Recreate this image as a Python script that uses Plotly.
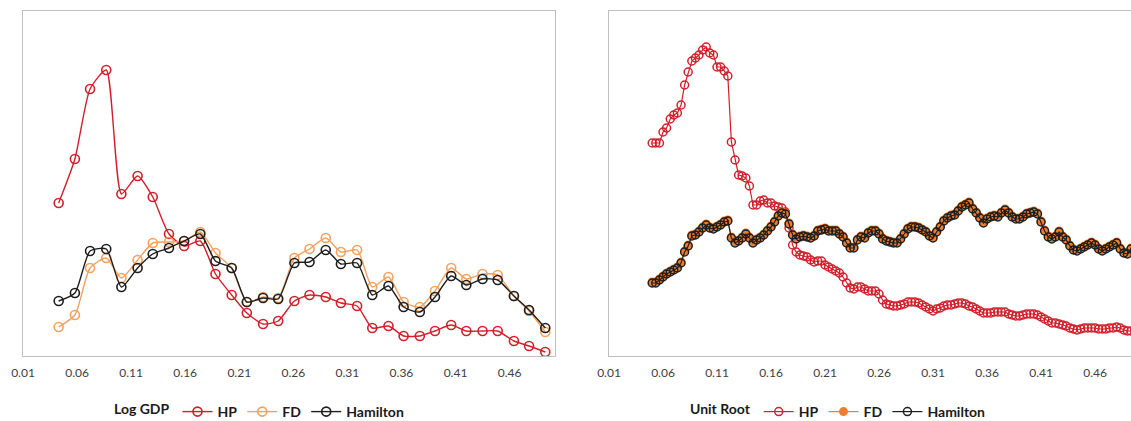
import plotly.graph_objects as go

# ---- Log GDP panel: frequencies and spectral estimates ----
freq_gdp = [0.043, 0.058, 0.072, 0.087, 0.101, 0.116, 0.130, 0.145, 0.159, 0.174,
            0.188, 0.203, 0.217, 0.232, 0.246, 0.261, 0.275, 0.290, 0.304, 0.319,
            0.333, 0.348, 0.362, 0.377, 0.391, 0.406, 0.420, 0.435, 0.449, 0.464,
            0.478, 0.493]
gdp_hp = [1.53, 1.97, 2.67, 2.86, 1.62, 1.80, 1.59, 1.22, 1.10, 1.15,
          0.82, 0.61, 0.43, 0.32, 0.35, 0.55, 0.61, 0.59, 0.53, 0.50,
          0.28, 0.30, 0.20, 0.20, 0.25, 0.31, 0.25, 0.25, 0.25, 0.15,
          0.10, 0.04]
gdp_fd = [0.29, 0.41, 0.88, 0.98, 0.78, 0.96, 1.13, 1.14, 1.15, 1.24,
          1.03, 0.88, 0.54, 0.59, 0.58, 0.98, 1.07, 1.18, 1.04, 1.06,
          0.69, 0.79, 0.54, 0.49, 0.65, 0.88, 0.77, 0.82, 0.81, 0.60,
          0.45, 0.24]
gdp_ham = [0.55, 0.63, 1.05, 1.07, 0.69, 0.88, 1.02, 1.08, 1.15, 1.22,
           0.95, 0.88, 0.54, 0.58, 0.57, 0.93, 0.94, 1.06, 0.92, 0.93,
           0.61, 0.70, 0.49, 0.44, 0.59, 0.80, 0.71, 0.77, 0.76, 0.60,
           0.46, 0.28]

# ---- Unit Root panel: frequencies j/300, j = 15..150 ----
freq_ur = [round(j / 300, 4) for j in range(15, 151)]
ur_hp = [2.13, 2.13, 2.13, 2.24, 2.28, 2.37, 2.41, 2.43, 2.51, 2.71,
         2.84, 2.95, 2.98, 3.01, 3.06, 3.09, 3.03, 3.01, 2.89, 2.89,
         2.85, 2.80, 2.14, 1.96, 1.81, 1.80, 1.78, 1.70, 1.51, 1.51,
         1.55, 1.56, 1.53, 1.53, 1.50, 1.49, 1.48, 1.44, 1.28, 1.11,
         1.04, 1.01, 1.00, 0.99, 0.96, 0.94, 0.95, 0.95, 0.91, 0.89,
         0.87, 0.85, 0.83, 0.79, 0.73, 0.68, 0.67, 0.69, 0.69, 0.67,
         0.65, 0.65, 0.65, 0.62, 0.56, 0.52, 0.51, 0.50, 0.50, 0.51,
         0.52, 0.54, 0.54, 0.54, 0.53, 0.51, 0.49, 0.47, 0.45, 0.47,
         0.48, 0.50, 0.51, 0.51, 0.52, 0.53, 0.53, 0.52, 0.50, 0.49,
         0.47, 0.45, 0.43, 0.43, 0.43, 0.44, 0.44, 0.44, 0.44, 0.42,
         0.41, 0.40, 0.40, 0.41, 0.42, 0.42, 0.42, 0.41, 0.39, 0.37,
         0.35, 0.33, 0.33, 0.32, 0.31, 0.30, 0.28, 0.27, 0.26, 0.27,
         0.28, 0.28, 0.28, 0.28, 0.27, 0.27, 0.27, 0.28, 0.28, 0.29,
         0.28, 0.26, 0.25, 0.25, 0.25, 0.24]
ur_fd = [0.74, 0.74, 0.77, 0.80, 0.83, 0.85, 0.87, 0.89, 0.94, 1.05,
         1.11, 1.21, 1.22, 1.25, 1.29, 1.32, 1.29, 1.28, 1.30, 1.32,
         1.35, 1.36, 1.19, 1.14, 1.16, 1.19, 1.23, 1.19, 1.14, 1.17,
         1.19, 1.22, 1.26, 1.30, 1.35, 1.41, 1.44, 1.43, 1.33, 1.22,
         1.18, 1.20, 1.21, 1.20, 1.19, 1.21, 1.26, 1.27, 1.28, 1.26,
         1.26, 1.26, 1.23, 1.20, 1.14, 1.09, 1.09, 1.17, 1.20, 1.19,
         1.24, 1.26, 1.26, 1.23, 1.18, 1.16, 1.15, 1.14, 1.14, 1.18,
         1.23, 1.28, 1.30, 1.30, 1.29, 1.27, 1.25, 1.21, 1.19, 1.25,
         1.30, 1.36, 1.39, 1.41, 1.42, 1.46, 1.50, 1.52, 1.54, 1.48,
         1.44, 1.39, 1.34, 1.38, 1.40, 1.41, 1.40, 1.44, 1.47, 1.44,
         1.40, 1.38, 1.38, 1.40, 1.43, 1.44, 1.45, 1.43, 1.35, 1.26,
         1.20, 1.18, 1.20, 1.25, 1.20, 1.17, 1.11, 1.07, 1.06, 1.08,
         1.10, 1.12, 1.14, 1.12, 1.08, 1.06, 1.08, 1.10, 1.12, 1.14,
         1.08, 1.04, 1.03, 1.08, 1.07, 1.06]
ur_ham = [0.73, 0.73, 0.76, 0.79, 0.82, 0.84, 0.86, 0.88, 0.93, 1.04,
          1.10, 1.20, 1.21, 1.24, 1.28, 1.31, 1.28, 1.27, 1.29, 1.31,
          1.34, 1.35, 1.18, 1.13, 1.15, 1.18, 1.22, 1.18, 1.13, 1.16,
          1.18, 1.21, 1.25, 1.29, 1.34, 1.40, 1.43, 1.42, 1.32, 1.21,
          1.17, 1.19, 1.20, 1.19, 1.18, 1.20, 1.25, 1.26, 1.27, 1.25,
          1.25, 1.25, 1.22, 1.19, 1.13, 1.08, 1.08, 1.16, 1.19, 1.18,
          1.23, 1.25, 1.25, 1.22, 1.17, 1.15, 1.14, 1.13, 1.13, 1.17,
          1.22, 1.27, 1.29, 1.29, 1.28, 1.26, 1.24, 1.20, 1.18, 1.24,
          1.29, 1.35, 1.38, 1.40, 1.41, 1.45, 1.49, 1.51, 1.53, 1.47,
          1.43, 1.38, 1.33, 1.37, 1.39, 1.40, 1.39, 1.43, 1.46, 1.43,
          1.39, 1.37, 1.37, 1.39, 1.42, 1.43, 1.44, 1.42, 1.34, 1.25,
          1.19, 1.17, 1.19, 1.24, 1.19, 1.16, 1.10, 1.06, 1.05, 1.07,
          1.09, 1.11, 1.13, 1.11, 1.07, 1.05, 1.07, 1.09, 1.11, 1.13,
          1.07, 1.03, 1.02, 1.07, 1.06, 1.05]

tick_vals = [0.01, 0.06, 0.11, 0.16, 0.21, 0.26, 0.31, 0.36, 0.41, 0.46]
tick_text = ["0.01", "0.06", "0.11", "0.16", "0.21", "0.26", "0.31", "0.36", "0.41", "0.46"]

RED = "#D21F2B"
ORANGE_L = "#F4A15D"
ORANGE = "#EE7D2F"
BLACK = "#1E1E1E"
FONT = "Lato"

fig = go.Figure()

# Log GDP panel (smoothed lines, hollow markers)
for name, ys, col in [("HP", gdp_hp, RED), ("FD", gdp_fd, ORANGE_L), ("Hamilton", gdp_ham, BLACK)]:
    fig.add_trace(go.Scatter(
        x=freq_gdp, y=ys, name=f"<b>{name}</b>", mode="lines+markers",
        line=dict(color=col, width=1.4, shape="spline", smoothing=0.6),
        marker=dict(symbol="circle-open", size=9, color=col, line=dict(width=1.6)),
        xaxis="x", yaxis="y", legend="legend"))

# Unit Root panel
fig.add_trace(go.Scatter(
    x=freq_ur, y=ur_hp, name="<b>HP</b>", mode="lines+markers",
    line=dict(color=RED, width=1.2),
    marker=dict(symbol="circle-open", size=8, color=RED, line=dict(width=1.5)),
    xaxis="x2", yaxis="y2", legend="legend2"))
fig.add_trace(go.Scatter(
    x=freq_ur, y=ur_fd, name="<b>FD</b>", mode="lines+markers",
    line=dict(color=ORANGE, width=1.2),
    marker=dict(symbol="circle", size=9, color=ORANGE, line=dict(width=0)),
    xaxis="x2", yaxis="y2", legend="legend2"))
fig.add_trace(go.Scatter(
    x=freq_ur, y=ur_ham, name="<b>Hamilton</b>", mode="lines+markers",
    line=dict(color=BLACK, width=1.2),
    marker=dict(symbol="circle-open", size=8, color=BLACK, line=dict(width=1.5)),
    xaxis="x2", yaxis="y2", legend="legend2"))

W, H = 1131, 421
x_common = dict(tickvals=tick_vals, ticktext=tick_text, showgrid=False, zeroline=False,
                showline=True, linecolor="#BFBFBF", linewidth=1, mirror=True,
                ticks="outside", ticklen=6, tickcolor="rgba(0,0,0,0)", automargin=False,
                tickfont=dict(family=FONT, size=12, color="#404040"))
y_common = dict(range=[0, 3.45], showgrid=False, zeroline=False, showticklabels=False,
                showline=True, linecolor="#BFBFBF", linewidth=1, ticks="", automargin=False,
                domain=[1 - 356 / H, 1 - 11 / H])

leg_font = dict(family=FONT, size=14, color="#1a1a1a")


def make_legend(x_px, title):
    return dict(orientation="h", yanchor="middle", xanchor="left",
                x=x_px / W, y=1 - 412 / H, font=leg_font,
                bgcolor="rgba(0,0,0,0)", itemwidth=30,
                title=dict(text=f"<b>{title}</b>", side="left", font=leg_font))


fig.update_layout(
    template="none",
    width=W, height=H, margin=dict(l=0, r=0, t=0, b=0, autoexpand=False),
    paper_bgcolor="white", plot_bgcolor="white",
    xaxis=dict(domain=[23 / W, 555 / W], range=[0.01, 0.502], anchor="y", **x_common),
    yaxis=dict(anchor="x", mirror=True, **y_common),
    xaxis2=dict(domain=[609 / W, 1.0], range=[0.01, 0.4933], anchor="y2", **x_common),
    yaxis2=dict(anchor="x2", mirror=False, **y_common),
    legend=make_legend(112, "Log GDP"),
    legend2=make_legend(688, "Unit Root"),
)

fig.write_html("out.html")
